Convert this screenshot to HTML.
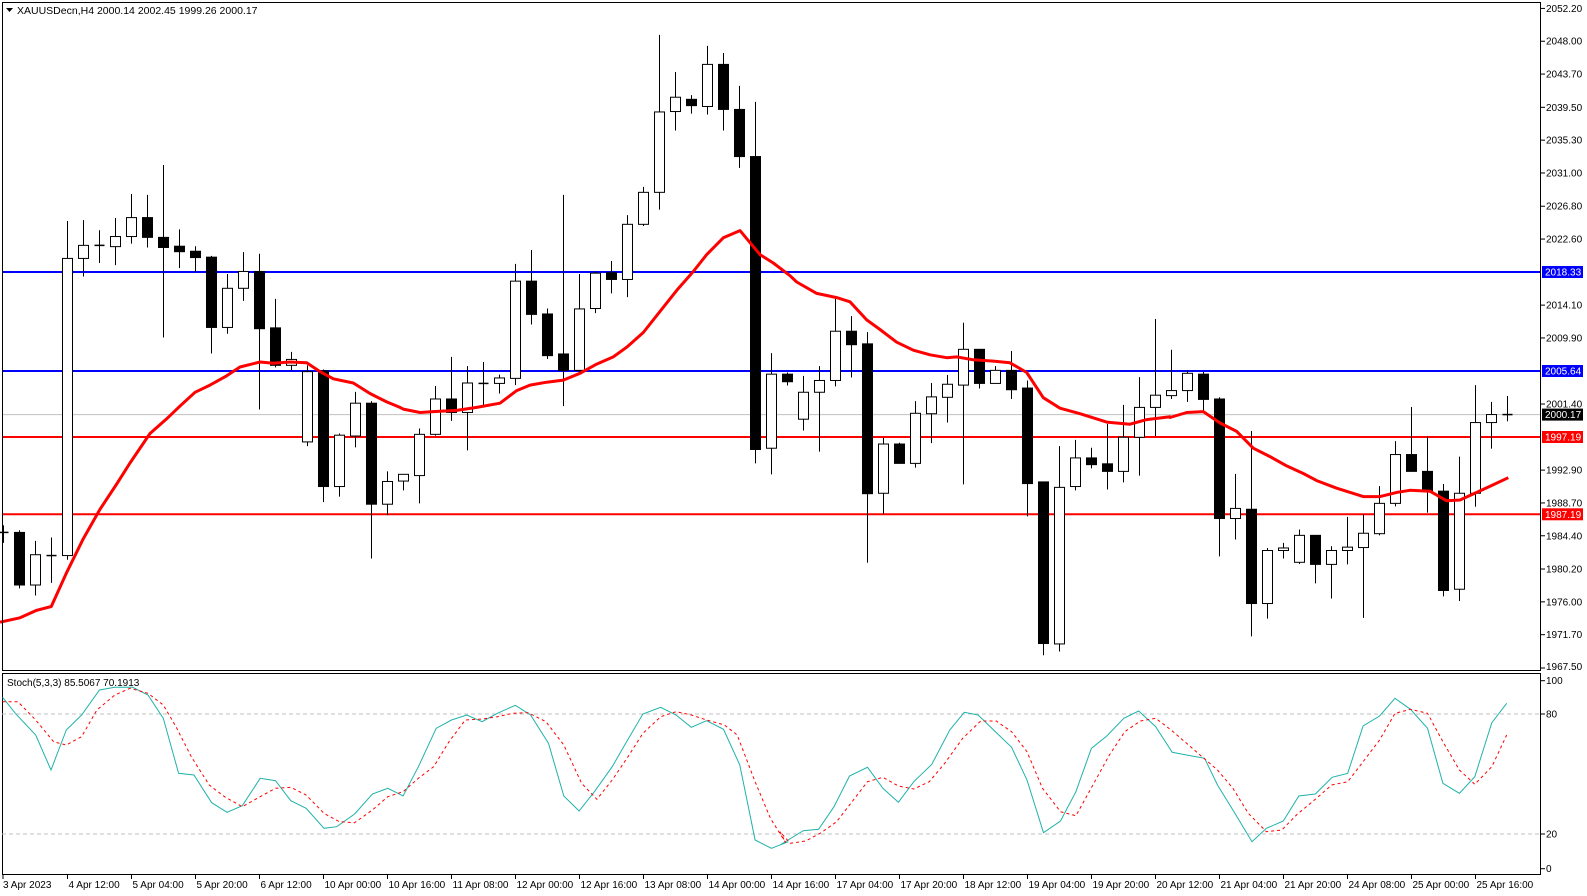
<!DOCTYPE html>
<html><head><meta charset="utf-8"><style>
html,body{margin:0;padding:0;background:#fff;}
svg{display:block;font-family:"Liberation Sans",sans-serif;}
</style></head><body>
<svg id="s" width="1587" height="896" xmlns="http://www.w3.org/2000/svg"></svg>
<script>
const S=document.getElementById('s');let h='';
const Y=v=>v/2.376;
const pY=p=>8.4+(2052.2-p)*7.78;
// frames
h+='<rect x="0" y="0" width="1587" height="896" fill="#fff"/>';
// horizontal lines
h+='<line x1="2" x2="1541" y1="414.6" y2="414.6" stroke="#c0c0c0" stroke-width="1"/>';
h+='<line x1="2" x2="1541" y1="272" y2="272" stroke="#0000ff" stroke-width="2"/>';
h+='<line x1="2" x2="1541" y1="371" y2="371" stroke="#0000ff" stroke-width="2"/>';
h+='<line x1="2" x2="1541" y1="437" y2="437" stroke="#ff0000" stroke-width="2"/>';
h+='<line x1="2" x2="1541" y1="514.3" y2="514.3" stroke="#ff0000" stroke-width="2"/>';
// candles [wt,wb,bt,bb,bull]
const C=[[1248,1290,1263,1267,0],[1260,1398,1265,1390,0],[1285,1415,1318,1390,1],[1277,1385,1318,1322,0],[525,1330,614,1320,1],[523,657,583,614,1],[547,625,582,584,0],[518,630,562,586,1],[461,579,517,562,1],[463,588,517,564,0],[392,802,564,588,0],[545,637,585,598,0],[585,645,597,612,0],[608,840,611,778,0],[651,793,685,778,1],[599,715,645,685,1],[603,973,645,781,0],[710,873,779,868,0],[836,880,854,868,1],[868,1060,883,1050,1],[878,1193,881,1156,0],[1030,1180,1034,1156,1],[931,1063,958,1036,1],[953,1327,958,1198,0],[1120,1224,1144,1198,1],
[1127,1165,1127,1143,1],[1018,1196,1032,1130,1],[917,1035,948,1032,1],[848,1000,948,980,0],[870,1070,910,980,1],[860,965,910,912,0],[890,935,898,911,1],[627,915,668,899,1],[594,771,668,747,0],[733,853,746,845,0],[463,965,841,880,0],[651,890,734,880,1],[645,744,649,733,1],[620,697,648,664,0],[511,706,533,664,1],[444,537,457,533,1],[83,498,266,457,1],[171,310,231,265,1],[226,270,236,251,0],[109,272,153,253,1],[126,310,153,260,0],[204,399,260,372,0],[242,1101,372,1068,0],[839,1127,889,1065,1],[885,916,889,907,0],
[893,1023,932,996,1],[870,1073,904,932,1],[709,918,787,904,1],[751,897,787,819,0],[789,1337,817,1173,0],[1040,1222,1055,1172,1],[1052,1101,1055,1101,0],[953,1111,982,1101,1],[910,1053,943,983,1],[891,1004,913,944,1],[767,1151,830,915,1],[830,923,830,911,0],[870,911,880,911,1],[834,948,880,926,0],[904,1227,922,1149,0],[1145,1557,1145,1529,0],[1060,1548,1158,1530,1],[1045,1165,1088,1156,1],[1064,1113,1088,1104,0],[1007,1163,1102,1120,0],[962,1146,1039,1120,1],[896,1130,968,1039,1],[758,1036,939,968,1],[831,948,928,940,1],
[880,955,887,928,1],[884,977,889,949,0],[944,1322,948,1232,0],[1126,1282,1208,1232,1],[1024,1512,1210,1434,0],[1302,1470,1308,1434,1],[1290,1327,1302,1308,1],[1258,1340,1272,1336,1],[1272,1386,1272,1341,0],[1298,1422,1308,1341,1],[1228,1341,1300,1308,1],[1222,1468,1267,1301,1],[1155,1272,1196,1268,1],[1048,1203,1080,1196,1],[967,1120,1080,1120,0],[1037,1218,1120,1168,0],[1150,1417,1167,1403,0],[1085,1428,1172,1400,1],[915,1204,1004,1172,1],[955,1066,985,1004,1],[941,1001,984,986,0]];
C.forEach((c,i)=>{const x=Math.round(3.3+16*i)+0.5;const wt=Y(c[0]),wb=Y(c[1]),bt=Y(c[2]),bb=Y(c[3]);
h+=`<line x1="${x}" x2="${x}" y1="${wt}" y2="${wb}" stroke="#000" stroke-width="1"/>`;
const bh=Math.max(bb-bt,1);
if(bh<2.5){h+=`<line x1="${x-5}" x2="${x+5}" y1="${(bt+bb)/2}" y2="${(bt+bb)/2}" stroke="#000" stroke-width="1.5"/>`;}
else h+=`<rect x="${x-5}" y="${bt}" width="10" height="${bh}" fill="${c[4]?'#fff':'#000'}" stroke="#000" stroke-width="1"/>`;});
// MA
const M=[[0,[[0,1478],[60,1468],[110,1450],[154,1441],[200,1360],[250,1280],[300,1210],[350,1150],[390,1100],[450,1030],[500,995],[540,965],[585,932],[630,915],[680,893],[720,872],[780,860],[820,863],[870,860],[920,862],[960,883],[1000,900],[1060,910],[1110,935],[1160,955],[1200,968]]],
[390,[[40,972],[90,980],[130,978],[200,975],[260,968],[330,958],[380,928],[420,915],[470,908],[520,903],[570,887],[620,865],[670,848],[710,825],[760,790],[810,740],[860,690],[910,645],[950,605],[1000,565],[1050,548],[1110,605],[1150,625],[1200,655]]],
[780,[[50,670],[110,697],[170,707],[210,717],[260,760],[300,783],[350,813],[400,832],[450,843],[500,850],[530,848],[580,855],[640,858],[690,862],[740,885],[790,945],[840,970],[900,983],[980,1003],[1050,1008],[1100,997],[1170,990]]],
[1170,[[0,992],[50,980],[100,978],[150,1005],[200,1025],[250,1065],[300,1085],[350,1107],[400,1125],[440,1142],[500,1160],[580,1180],[630,1180],[680,1170],[720,1165],[780,1167],[830,1190],[870,1188],[920,1170],[970,1152],[1015,1135]]]];
let mp=[];M.forEach(([o,pts])=>pts.forEach(p=>mp.push((o+p[0]/3).toFixed(1)+','+Y(p[1]).toFixed(1))));
h+=`<polyline points="${mp.join(' ')}" fill="none" stroke="#ff0000" stroke-width="3" stroke-linejoin="round"/>`;
// main frame
h+='<rect x="2.5" y="2.5" width="1538" height="668" fill="none" stroke="#000" stroke-width="1"/>';
h+='<rect x="2.5" y="673.5" width="1538" height="201" fill="none" stroke="#000" stroke-width="1"/>';
// title
h+='<polygon points="6,8 13,8 9.5,12" fill="#000"/>';
h+='<text x="17" y="14" font-size="10.5" fill="#000">XAUUSDecn,H4  2000.14 2002.45 1999.26 2000.17</text>';
// price axis labels
const L=[["2052.20",20],["2048.00",98],["2043.70",176],["2039.50",255],["2035.30",333],["2031.00",411],["2026.80",490],["2022.60",568],["2014.10",725],["2009.90",803],["2001.40",960],["1992.90",1117],["1988.70",1195],["1984.40",1273],["1980.20",1352],["1976.00",1430],["1971.70",1508]];
L.forEach(([t,zy])=>{const y=Y(zy);h+=`<line x1="1541" x2="1545" y1="${y}" y2="${y}" stroke="#000"/><text x="1546" y="${y+3.5}" font-size="10" fill="#000">${t}</text>`;});
h+=`<line x1="1541" x2="1545" y1="668" y2="668" stroke="#000"/><text x="1546" y="670" font-size="10" fill="#000">1967.50</text>`;
[["2018.33",272,"#0000ff"],["2005.64",371,"#0000ff"],["1997.19",437,"#ff0000"],["1987.19",514.3,"#ff0000"],["2000.17",414.6,"#000"]].forEach(([t,y,c])=>{h+=`<rect x="1542" y="${y-6}" width="41" height="12" fill="${c}"/><text x="1545" y="${y+3.5}" font-size="10" fill="#fff">${t}</text>`;});
// stoch
const sy=v=>874-2*v;
h+=`<line x1="2" x2="1541" y1="714" y2="714" stroke="#c0c0c0" stroke-dasharray="4,3"/><line x1="2" x2="1541" y1="834" y2="834" stroke="#c0c0c0" stroke-dasharray="4,3"/>`;
[["100",680.7],["80",714],["20",834],["0",868.7]].forEach(([t,y])=>{h+=`<line x1="1541" x2="1545" y1="${y}" y2="${y}" stroke="#000"/><text x="1546" y="${y+3.5}" font-size="10" fill="#000">${t}</text>`;});
h+='<text x="7" y="686" font-size="10" fill="#000">Stoch(5,3,3) 85.5067 70.1913</text>';
const conv=(a,b)=>{let r=[];a.forEach(p=>r.push((p[0]/1.96).toFixed(1)+','+(660+p[1]/3).toFixed(1)));b.forEach(p=>r.push((780+p[0]/1.943).toFixed(1)+','+(660+p[1]/3).toFixed(1)));return r.join(' ');};
const mainA=[[5,112],[30,160],[70,225],[100,330],[130,210],[160,165],[195,90],[225,82],[260,82],[290,105],[320,175],[350,340],[380,345],[415,428],[445,457],[475,437],[510,355],[540,362],[570,422],[600,445],[635,505],[660,500],[695,462],[730,402],[760,385],[790,408],[820,320],[855,205],[885,180],[915,165],[945,185],[975,160],[1010,136],[1040,165],[1075,250],[1105,408],[1135,453],[1165,395],[1200,320],[1230,240],[1260,162],[1295,142],[1325,165],[1355,202],[1385,182],[1418,208],[1450,315],[1480,540],[1512,565],[1545,545]];
const mainB=[[0,555],[45,512],[75,508],[105,440],[135,348],[170,322],[200,385],[230,427],[260,365],[295,313],[330,210],[358,157],[385,165],[415,210],[450,262],[480,360],[512,518],[545,483],[575,395],[605,265],[635,228],[668,175],[697,153],[730,200],[762,277],[790,285],[825,295],[850,375],[885,463],[917,545],[945,505],[978,483],[1008,408],[1040,402],[1073,352],[1103,340],[1133,198],[1165,168],[1195,115],[1225,148],[1258,205],[1288,370],[1320,400],[1350,350],[1383,188],[1412,130]];
const sigA=[[5,125],[35,125],[70,180],[105,245],[130,255],[160,230],[190,150],[225,105],[255,85],[290,100],[320,135],[345,200],[375,290],[410,375],[440,410],[475,440],[510,410],[540,385],[570,382],[600,405],[635,460],[665,485],[695,488],[730,450],[760,410],[790,395],[820,355],[850,320],[880,245],[912,180],[945,177],[975,170],[1005,160],[1035,158],[1070,185],[1105,255],[1140,370],[1170,418],[1200,360],[1230,292],[1260,220],[1295,170],[1325,155],[1355,165],[1385,180],[1420,195],[1445,225],[1480,365],[1510,475],[1540,548]];
const sigB=[[0,515],[20,550],[50,543],[80,518],[110,485],[140,425],[170,365],[200,352],[230,378],[260,387],[290,365],[320,310],[355,235],[390,183],[420,183],[450,215],[480,275],[510,385],[545,455],[575,467],[605,383],[640,285],[670,215],[700,183],[730,175],[760,210],[790,250],[820,290],[850,330],[880,385],[910,460],[945,515],[975,510],[1005,463],[1040,418],[1072,375],[1103,365],[1133,305],[1165,240],[1195,160],[1225,148],[1258,160],[1288,245],[1320,330],[1350,373],[1383,320],[1412,225]];
h+=`<polyline points="${conv(mainA,mainB)}" fill="none" stroke="#20b2aa" stroke-width="1"/>`;
h+=`<polyline points="${conv(sigA,sigB)}" fill="none" stroke="#ff0000" stroke-width="1" stroke-dasharray="3,3"/>`;
// time axis
const T=["4 Apr 12:00","5 Apr 04:00","5 Apr 20:00","6 Apr 12:00","10 Apr 00:00","10 Apr 16:00","11 Apr 08:00","12 Apr 00:00","12 Apr 16:00","13 Apr 08:00","14 Apr 00:00","14 Apr 16:00","17 Apr 04:00","17 Apr 20:00","18 Apr 12:00","19 Apr 04:00","19 Apr 20:00","20 Apr 12:00","21 Apr 04:00","21 Apr 20:00","24 Apr 08:00","25 Apr 00:00","25 Apr 16:00"];
h+='<line x1="3" x2="3" y1="875" y2="879" stroke="#000"/><text x="3" y="888" font-size="10" fill="#000">3 Apr 2023</text>';
T.forEach((t,k)=>{const x=Math.round(3.3+16*(4+4*k))+0.5;h+=`<line x1="${x}" x2="${x}" y1="875" y2="879" stroke="#000"/><text x="${x+1}" y="888" font-size="10" fill="#000">${t}</text>`;});
S.innerHTML=h;
</script>
</body></html>
